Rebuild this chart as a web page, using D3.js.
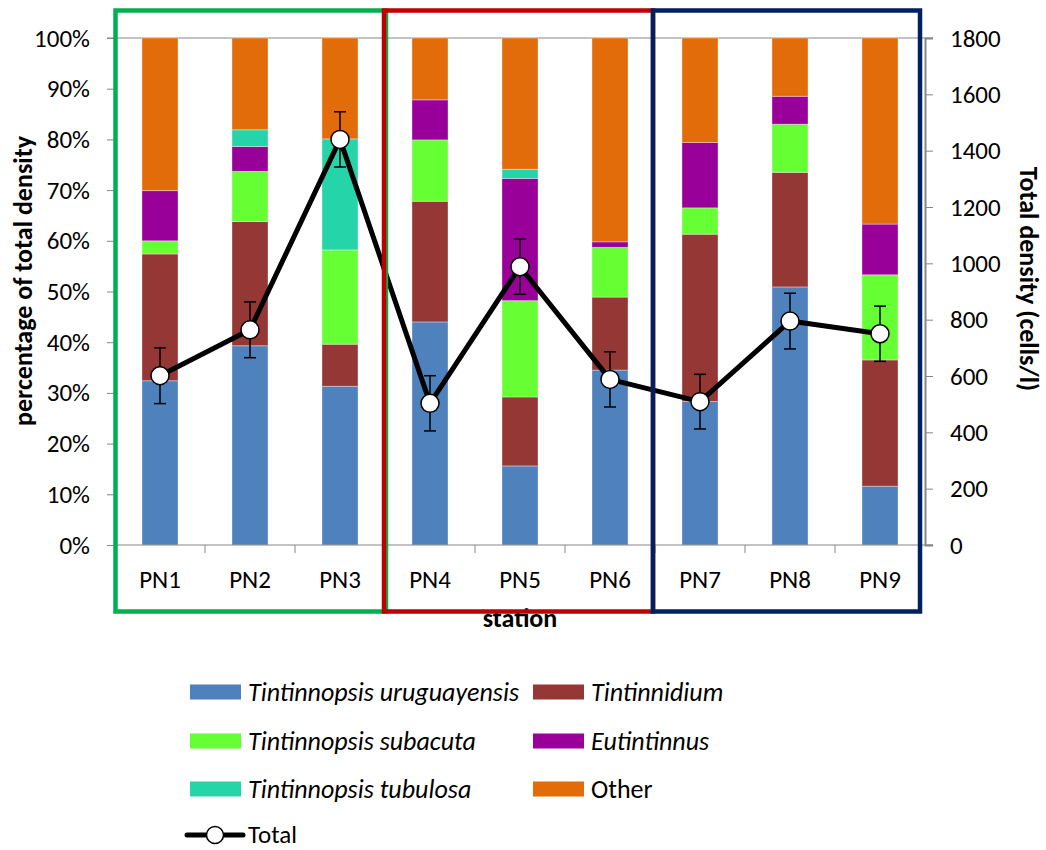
<!DOCTYPE html>
<html>
<head>
<meta charset="utf-8">
<script src="https://cdn.jsdelivr.net/npm/d3@7"></script>
<style>
  html, body { margin: 0; padding: 0; background: #fff; }
  svg { display: block; }
  text { font-family: Carlito, "Open Sans", sans-serif; fill: #000; }
</style>
</head>
<body>
<svg id="chart" width="1046" height="850"></svg>
<script>
// ---- data ----
const stations = ["PN1", "PN2", "PN3", "PN4", "PN5", "PN6", "PN7", "PN8", "PN9"];
const uruguayensis = [32.4, 39.3, 31.3, 44.0, 15.6, 34.5, 28.3, 50.9, 11.6];
const tintinnidium = [25.0, 24.5, 8.3, 23.8, 13.6, 14.4, 33.0, 22.6, 24.9];
const subacuta     = [2.6, 9.9, 18.6, 12.1, 19.0, 9.8, 5.2, 9.5, 16.8];
const eutintinnus  = [9.9, 4.9, 0.0, 7.9, 24.1, 1.1, 12.9, 5.5, 10.0];
const tubulosa     = [0.0, 3.3, 21.9, 0.0, 1.8, 0.0, 0.0, 0.0, 0.0];
const other        = [30.1, 18.1, 19.9, 12.2, 25.9, 40.2, 20.6, 11.5, 36.7];
const totalDensity = [601, 764, 1440, 503, 988, 588, 509, 795, 750];
const totalError   = [99, 99, 98, 98, 98, 98, 97, 99, 98];
const seriesNames  = ["Tintinnopsis uruguayensis", "Tintinnidium", "Tintinnopsis subacuta",
                      "Eutintinnus", "Tintinnopsis tubulosa", "Other"];
const seriesItalic = [true, true, true, true, true, false];
const pctTicks     = [0, 10, 20, 30, 40, 50, 60, 70, 80, 90, 100];
const densityTicks = [0, 200, 400, 600, 800, 1000, 1200, 1400, 1600, 1800];
const groups       = [["PN1", "PN3"], ["PN4", "PN6"], ["PN7", "PN9"]];

// ---- styles ----
const seriesColors = ["#4F81BD", "#953735", "#66FF33", "#990099", "#26D4A9", "#E36C0A"];
const groupColors  = ["#00B050", "#C00000", "#002060"];
const axisColor = "#868686";
const tickFont = 25, titleFont = 26, legendFont = 26;

const svg = d3.select("#chart");
const plot = { left: 115, right: 925, top: 38, bottom: 545 };

const x = d3.scaleBand().domain(stations).range([plot.left, plot.right])
  .paddingInner(0.6).paddingOuter(0.3);
const yPct = d3.scaleLinear().domain([0, 100]).range([plot.bottom, plot.top]);
const yDen = d3.scaleLinear().domain([0, 1800]).range([plot.bottom, plot.top]);

const seriesArrays = [uruguayensis, tintinnidium, subacuta, eutintinnus, tubulosa, other];
const rows = stations.map((s, i) => {
  const r = { station: s };
  seriesArrays.forEach((arr, k) => r["s" + k] = arr[i]);
  return r;
});
const keys = seriesArrays.map((_, k) => "s" + k);
const stacked = d3.stack().keys(keys)(rows);

// top gridline
svg.append("line")
  .attr("x1", plot.left - 8).attr("x2", plot.right + 8)
  .attr("y1", yPct(100)).attr("y2", yPct(100))
  .attr("stroke", axisColor).attr("stroke-width", 1);

// bars
svg.append("g").selectAll("g").data(stacked).join("g")
  .attr("fill", (d, i) => seriesColors[i])
  .selectAll("rect").data(d => d).join("rect")
  .attr("x", d => x(d.data.station))
  .attr("width", x.bandwidth())
  .attr("y", d => yPct(d[1]))
  .attr("height", d => yPct(d[0]) - yPct(d[1]))
  .attr("stroke", "rgba(255,255,255,0.35)")
  .attr("stroke-width", d => (d[1] - d[0]) > 0 ? 1 : 0);

// left axis
const gL = svg.append("g").attr("transform", `translate(${plot.left},0)`)
  .call(d3.axisLeft(yPct).tickValues(pctTicks).tickFormat(d => d + "%").tickSize(8).tickPadding(17));
gL.select(".domain").attr("stroke", axisColor);
gL.selectAll(".tick line").attr("stroke", axisColor);
gL.selectAll("text").attr("font-size", tickFont).style("font-family", 'Carlito, "Open Sans", sans-serif');

// right axis
const gR = svg.append("g").attr("transform", `translate(${plot.right},0)`)
  .call(d3.axisRight(yDen).tickValues(densityTicks).tickFormat(d3.format("d")).tickSize(8).tickPadding(17));
gR.select(".domain").attr("stroke", axisColor).attr("stroke-width", 2);
gR.selectAll(".tick line").attr("stroke", axisColor);
gR.selectAll("text").attr("font-size", tickFont).style("font-family", 'Carlito, "Open Sans", sans-serif');

// x axis
const step = x.step();
const boundaries = stations.slice(1).map(s => x(s) - (step - x.bandwidth()) / 2);
svg.append("line")
  .attr("x1", plot.left).attr("x2", plot.right + 8)
  .attr("y1", plot.bottom).attr("y2", plot.bottom)
  .attr("stroke", axisColor);
svg.append("g").selectAll("line").data(boundaries).join("line")
  .attr("x1", d => d).attr("x2", d => d)
  .attr("y1", plot.bottom).attr("y2", plot.bottom + 8)
  .attr("stroke", axisColor);
svg.append("g").selectAll("text").data(stations).join("text")
  .attr("x", d => x(d) + x.bandwidth() / 2)
  .attr("y", 588)
  .attr("text-anchor", "middle")
  .attr("font-size", tickFont)
  .text(d => d);

// axis titles
svg.append("text")
  .attr("transform", `translate(32,281) rotate(-90)`)
  .attr("text-anchor", "middle")
  .attr("font-size", titleFont).attr("font-weight", "bold")
  .text("percentage of total density");
svg.append("text")
  .attr("transform", `translate(1020,279) rotate(90)`)
  .attr("text-anchor", "middle")
  .attr("font-size", titleFont).attr("font-weight", "bold")
  .text("Total density (cells/l)");
svg.append("text")
  .attr("x", (plot.left + plot.right) / 2).attr("y", 627)
  .attr("text-anchor", "middle")
  .attr("font-size", titleFont).attr("font-weight", "bold")
  .text("station");

// total line with error bars
const cx = i => x(stations[i]) + x.bandwidth() / 2;
const gT = svg.append("g");
const eb = gT.selectAll("g.eb").data(totalDensity).join("g").attr("class", "eb");
eb.append("line")
  .attr("x1", (d, i) => cx(i)).attr("x2", (d, i) => cx(i))
  .attr("y1", (d, i) => yDen(d + totalError[i])).attr("y2", (d, i) => yDen(d - totalError[i]))
  .attr("stroke", "#000").attr("stroke-width", 1.5);
[1, -1].forEach(sgn => {
  eb.append("line")
    .attr("x1", (d, i) => cx(i) - 6).attr("x2", (d, i) => cx(i) + 6)
    .attr("y1", (d, i) => yDen(d + sgn * totalError[i])).attr("y2", (d, i) => yDen(d + sgn * totalError[i]))
    .attr("stroke", "#000").attr("stroke-width", 1.5);
});
gT.append("path")
  .datum(totalDensity)
  .attr("d", d3.line().x((d, i) => cx(i)).y(d => yDen(d)))
  .attr("fill", "none").attr("stroke", "#000").attr("stroke-width", 5)
  .attr("stroke-linejoin", "round");
gT.selectAll("circle").data(totalDensity).join("circle")
  .attr("cx", (d, i) => cx(i)).attr("cy", d => yDen(d))
  .attr("r", 9).attr("fill", "#fff").attr("stroke", "#000").attr("stroke-width", 1.5);

// group boxes
const boxTop = 10.5, boxBottom = 611.5;
const insets = [[0.5, 1], [-1, -2], [-2, -5]];
svg.append("g").selectAll("rect").data(groups).join("rect")
  .attr("x", (g, i) => x(g[0]) - (step - x.bandwidth()) / 2 + insets[i][0])
  .attr("width", (g, i) => (x(g[1]) + x.bandwidth() + (step - x.bandwidth()) / 2 + insets[i][1]) - (x(g[0]) - (step - x.bandwidth()) / 2 + insets[i][0]))
  .attr("y", boxTop).attr("height", boxBottom - boxTop)
  .attr("fill", "none")
  .attr("stroke", (g, i) => groupColors[i])
  .attr("stroke-width", 4.5);

// legend
const legItems = seriesNames.map((n, i) => ({ name: n, color: seriesColors[i], italic: seriesItalic[i] }));
const legCols = [190, 533], legRows = [692, 741, 789, 835];
const leg = svg.append("g");
legItems.forEach((it, i) => {
  const lx = legCols[i % 2], ly = legRows[Math.floor(i / 2)];
  leg.append("rect").attr("x", lx).attr("y", ly - 7.5).attr("width", 51).attr("height", 15).attr("fill", it.color);
  leg.append("text").attr("x", lx + 58).attr("y", ly).attr("dy", "0.35em")
    .attr("font-size", legendFont).attr("font-style", it.italic ? "italic" : "normal").text(it.name);
});
{
  const ly = legRows[3];
  leg.append("line").attr("x1", 187).attr("x2", 243).attr("y1", ly).attr("y2", ly)
    .attr("stroke", "#000").attr("stroke-width", 5).attr("stroke-linecap", "round");
  leg.append("circle").attr("cx", 215).attr("cy", ly).attr("r", 8.5)
    .attr("fill", "#fff").attr("stroke", "#000").attr("stroke-width", 1.5);
  leg.append("text").attr("x", 248).attr("y", ly).attr("dy", "0.3em").attr("font-size", 25).text("Total");
}
</script>
</body>
</html>
